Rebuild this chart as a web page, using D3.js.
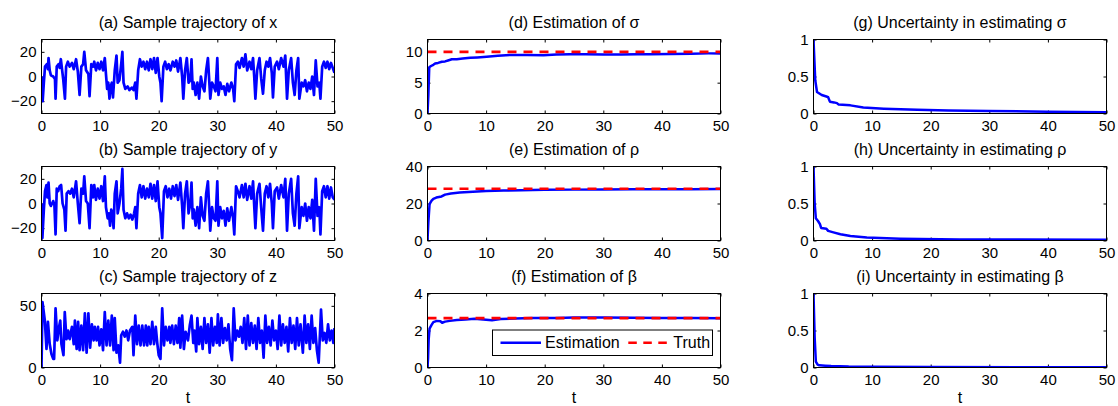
<!DOCTYPE html>
<html>
<head>
<meta charset="utf-8">
<script src="https://cdn.jsdelivr.net/npm/d3@7"></script>
<style>
  body { margin: 0; background: #fff; }
  svg { font-family: "Liberation Sans", Arial, Helvetica, sans-serif; }
</style>
</head>
<body>
<svg id="fig" width="1118" height="406"></svg>
<script>
// ---- data ----
var tTicks = [0, 10, 20, 30, 40, 50];

// sample trajectories [t, value]
var trajX = [[0,0],[0.2,-20],[0.4,-5],[0.6,8],[0.9,10],[1.1,6],[1.2,15],[1.4,5],[1.6,1],[2.0,0],[2.3,-2],[2.4,-18],
  [2.6,8],[2.9,10],[3.1,7],[3.3,14],[3.5,6],[3.7,-2],[4.0,-18],[4.2,8],[4.5,12],[4.8,8],[5.2,11],[5.5,6],[5.9,14],
  [6.2,4],[6.5,-15],[6.8,8],[7.1,10],[7.3,20],[7.6,5],[8.0,2],[8.2,-16],[8.5,10],[8.8,8],[9.0,12],[9.3,5],[9.6,11],
  [9.9,6],[10.2,12],[10.5,5],[10.8,15],[11.0,2],[11.2,-10],[11.4,-5],[11.6,-18],[11.8,-8],[12.0,-5],[12.2,-17],
  [12.5,5],[12.8,17],[13.0,-5],[13.3,-3],[13.6,10],[13.8,20],[14.0,-5],[14.3,-10],[14.7,-8],[15.0,-11],[15.4,-9],
  [15.7,-11],[16.0,-5],[16.2,-18],[16.5,5],[16.8,14],[17.1,8],[17.4,12],[17.7,6],[18.0,12],[18.3,5],[18.6,14],
  [18.9,6],[19.2,15],[19.5,3],[19.8,15],[20.1,0],[20.3,-5],[20.5,-20],[20.8,8],[21.1,12],[21.4,6],[21.7,10],
  [22.0,5],[22.4,12],[22.7,8],[23.0,13],[23.3,4],[23.7,15],[24.0,0],[24.2,-18],[24.5,5],[24.8,15],[25.1,-5],
  [25.4,-3],[25.6,14],[25.8,-10],[26.0,-5],[26.3,-15],[26.6,-5],[26.9,-18],[27.2,0],[27.5,-8],[27.8,-12],[28.1,5],
  [28.4,15],[28.8,-18],[29.1,-5],[29.4,-8],[29.7,-12],[30.0,15],[30.2,-15],[30.5,-5],[30.8,-10],[31.1,-8],
  [31.4,-15],[31.7,-6],[32.0,-12],[32.4,-5],[32.7,-10],[32.9,-20],[33.2,10],[33.5,12],[33.8,7],[34.2,15],[34.5,8],
  [34.8,18],[35.1,5],[35.5,12],[35.8,6],[36.1,15],[36.3,0],[36.5,-18],[36.8,5],[37.2,15],[37.5,-2],[37.8,-14],
  [38.1,5],[38.4,12],[38.7,8],[39.0,15],[39.3,3],[39.5,-17],[39.8,8],[40.2,12],[40.5,6],[40.9,15],[41.3,8],
  [41.6,17],[41.9,-18],[42.2,5],[42.6,15],[42.9,-5],[43.2,-15],[43.5,5],[43.8,15],[44.0,-18],[44.4,-5],[44.7,-8],
  [45.0,-3],[45.3,-12],[45.6,-5],[45.9,-10],[46.2,0],[46.5,-15],[46.8,13],[47.1,-8],[47.4,-5],[47.6,-18],[47.9,8],
  [48.2,12],[48.5,7],[48.8,12],[49.1,6],[49.4,11],[49.7,7],[50.0,3]];

var trajY = [[0,0],[0.15,-28],[0.4,-5],[0.6,10],[0.85,15],[1.0,5],[1.2,17],[1.4,0],[1.6,-2],[2.0,2],[2.2,-1],
  [2.4,-25],[2.6,12],[2.85,10],[3.1,14],[3.35,15],[3.6,0],[3.9,-5],[4.1,-22],[4.3,8],[4.6,10],[4.9,8],[5.2,12],
  [5.5,5],[5.9,18],[6.2,0],[6.5,-16],[6.8,12],[7.1,8],[7.3,22],[7.6,2],[7.9,0],[8.2,-20],[8.5,15],[8.8,5],[9.0,15],
  [9.3,3],[9.6,12],[9.9,4],[10.2,14],[10.5,2],[10.8,22],[11.0,-3],[11.3,-12],[11.5,-8],[11.7,-18],[11.9,-5],
  [12.1,-8],[12.3,-20],[12.5,8],[12.8,18],[13.0,-8],[13.3,0],[13.6,12],[13.8,28],[14.0,-5],[14.3,-12],[14.6,-8],
  [14.9,-12],[15.2,-9],[15.5,-13],[15.8,-8],[16.0,-3],[16.2,-20],[16.5,8],[16.8,15],[17.1,5],[17.4,14],[17.7,4],
  [18.0,12],[18.3,5],[18.6,16],[18.9,4],[19.2,15],[19.5,2],[19.8,18],[20.1,-3],[20.3,-8],[20.6,-28],[20.9,10],
  [21.2,14],[21.5,5],[21.8,12],[22.1,4],[22.4,14],[22.7,6],[23.0,15],[23.3,3],[23.7,17],[24.0,-2],[24.2,-20],
  [24.5,8],[24.8,18],[25.1,-8],[25.4,0],[25.6,17],[25.8,-12],[26.0,-5],[26.3,-18],[26.6,-3],[26.9,-20],[27.2,5],
  [27.5,-10],[27.8,-14],[28.1,8],[28.4,18],[28.8,-22],[29.1,-3],[29.4,-12],[29.7,-14],[30.0,18],[30.2,-18],
  [30.5,-3],[30.8,-12],[31.1,-6],[31.4,-18],[31.7,-4],[32.0,-14],[32.4,-3],[32.7,-12],[32.9,-25],[33.2,14],
  [33.5,10],[33.8,5],[34.2,15],[34.5,5],[34.8,16],[35.1,3],[35.5,14],[35.8,4],[36.1,18],[36.3,-2],[36.5,-20],
  [36.8,8],[37.2,16],[37.5,-4],[37.8,-22],[38.1,8],[38.4,14],[38.7,5],[39.0,16],[39.3,0],[39.5,-20],[39.8,10],
  [40.2,13],[40.5,4],[40.9,15],[41.3,5],[41.6,20],[41.9,-22],[42.2,8],[42.6,20],[42.9,-8],[43.2,-18],[43.5,8],
  [43.8,22],[44.0,-20],[44.4,-3],[44.7,-10],[45.0,0],[45.3,-14],[45.6,-3],[45.9,-12],[46.2,3],[46.5,-22],
  [46.8,20],[47.1,-10],[47.4,-3],[47.6,-25],[47.9,10],[48.2,14],[48.5,5],[48.8,14],[49.1,4],[49.4,13],[49.7,5],
  [50.0,3]];

var trajZ = [[0,0],[0.17,53],[0.57,38],[0.85,15],[1.1,37],[1.4,19],[1.7,11],[2.0,7],[2.15,7],[2.4,48],[2.7,22],
  [3.0,33],[3.2,38],[3.4,19],[3.75,10],[3.97,45],[4.26,23],[4.54,30],[4.8,23],[5.2,33],[5.5,19],[5.7,38],[6.0,15],
  [6.25,37],[6.5,14],[6.8,34],[7.1,14],[7.4,44],[7.7,12],[8.0,44],[8.3,16],[8.6,35],[8.9,22],[9.1,33],[9.4,22],
  [9.65,33],[9.9,18],[10.2,31],[10.5,14],[10.8,45],[11.1,18],[11.4,38],[11.7,18],[12.0,42],[12.3,14],[12.5,40],
  [12.8,12],[13.1,18],[13.4,4],[13.6,26],[13.9,29],[14.2,25],[14.5,30],[14.8,22],[15.1,30],[15.5,33],[15.7,10],
  [16.0,42],[16.3,19],[16.6,34],[16.9,18],[17.2,34],[17.5,18],[17.8,34],[18.05,18],[18.3,33],[18.6,19],[18.9,37],
  [19.2,19],[19.5,33],[19.75,20],[20.0,10],[20.3,7],[20.6,48],[20.9,18],[21.2,33],[21.5,22],[21.8,33],[22.0,20],
  [22.3,34],[22.6,19],[22.9,34],[23.2,20],[23.5,40],[23.7,16],[24.0,42],[24.3,15],[24.6,29],[25.0,22],[25.3,34],
  [25.6,42],[25.9,20],[26.1,30],[26.4,13],[26.6,40],[26.9,19],[27.2,33],[27.5,15],[27.8,40],[28.1,20],[28.4,35],
  [28.7,12],[29.0,40],[29.3,18],[29.6,33],[29.9,20],[30.1,43],[30.4,18],[30.7,40],[31.0,20],[31.3,32],[31.6,22],
  [31.9,35],[32.2,15],[32.5,6],[32.8,48],[33.1,22],[33.4,30],[33.7,25],[34.0,33],[34.3,20],[34.6,40],[34.9,15],
  [35.2,42],[35.5,18],[35.8,36],[36.1,20],[36.4,34],[36.7,15],[37.0,40],[37.3,20],[37.6,30],[37.9,8],[38.2,42],
  [38.5,20],[38.8,33],[39.1,18],[39.4,38],[39.7,22],[40.0,30],[40.3,15],[40.6,42],[40.9,18],[41.2,35],[41.5,20],
  [41.8,33],[42.1,13],[42.4,40],[42.7,20],[43.0,34],[43.3,15],[43.6,40],[43.9,18],[44.2,35],[44.6,12],[44.9,42],
  [45.2,20],[45.5,35],[45.8,15],[46.1,42],[46.4,20],[46.7,32],[47.0,14],[47.3,4],[47.7,47],[48.0,22],[48.3,28],
  [48.6,20],[48.9,35],[49.2,22],[49.5,30],[49.8,20],[50.0,32]];

// parameter estimates [t, value]
var sigmaEst = [[0,0],[0.15,3],[0.3,7.5],[0.6,7.7],[1.0,7.9],[1.3,8.1],[1.8,8.2],[2.45,8.4],[3,8.45],[3.5,8.6],
  [4.15,8.8],[5,8.8],[6,8.9],[7.3,9.05],[8.5,9.1],[10.1,9.2],[12,9.35],[14.1,9.5],[17,9.5],[19.8,9.45],[22,9.55],
  [24.4,9.6],[27,9.6],[30,9.55],[33,9.55],[35.8,9.6],[38,9.6],[41.5,9.65],[45,9.7],[48,9.75],[50,9.75]];
var rhoEst = [[0,0],[0.15,10],[0.35,19.6],[0.7,21.5],[1.0,22.5],[1.5,23.2],[2.4,23.8],[3.0,24.8],[4,25.4],
  [5.5,25.9],[7,26.2],[10,26.7],[13,27],[16,27.2],[20,27.4],[25,27.5],[30,27.6],[35,27.7],[40,27.7],[45,27.7],[50,27.8]];
var betaEst = [[0,0],[0.1,0.5],[0.2,1.5],[0.35,2.1],[0.7,2.3],[1.0,2.45],[1.6,2.52],[2.2,2.5],[2.5,2.42],[3.0,2.48],
  [3.8,2.52],[5,2.57],[6.5,2.6],[8,2.63],[10,2.58],[11,2.55],[12.5,2.62],[15,2.65],[18,2.68],[22,2.68],[25,2.7],
  [30,2.7],[35,2.69],[40,2.68],[45,2.67],[50,2.66]];
var sigmaTrue = 10, rhoTrue = 28, betaTrue = 2.667;

// uncertainties [t, value]
var sigmaUnc = [[0,1],[0.3,0.45],[0.6,0.29],[1.0,0.27],[1.4,0.25],[2.2,0.23],[2.5,0.22],[2.8,0.16],[3.5,0.15],
  [4,0.14],[4.3,0.12],[6.3,0.11],[8.5,0.08],[12,0.065],[17.7,0.05],[23,0.04],[30,0.033],[40,0.025],[50,0.018]];
var rhoUnc = [[0,1],[0.2,0.5],[0.4,0.3],[0.8,0.26],[1.1,0.22],[1.3,0.17],[2.2,0.16],[2.5,0.13],[3.4,0.11],
  [4.6,0.085],[6.3,0.06],[9.1,0.04],[14.8,0.025],[25,0.015],[35,0.012],[50,0.01]];
var betaUnc = [[0,1],[0.2,0.4],[0.4,0.08],[0.7,0.04],[1.0,0.03],[2.0,0.025],[3,0.02],[6,0.012],[10,0.009],
  [20,0.006],[35,0.004],[50,0.003]];

var panels = [
  {title: "(a) Sample trajectory of x", col: 0, row: 0, ydom: [-30, 30], yticks: [-20, 0, 20], series: trajX},
  {title: "(b) Sample trajectory of y", col: 0, row: 1, ydom: [-30, 30], yticks: [-20, 0, 20], series: trajY},
  {title: "(c) Sample trajectory of z", col: 0, row: 2, ydom: [0, 60], yticks: [0, 50], series: trajZ},
  {title: "(d) Estimation of \u03c3", col: 1, row: 0, ydom: [0, 12], yticks: [0, 5, 10], series: sigmaEst, truth: sigmaTrue},
  {title: "(e) Estimation of \u03c1", col: 1, row: 1, ydom: [0, 40], yticks: [0, 20, 40], series: rhoEst, truth: rhoTrue},
  {title: "(f) Estimation of \u03b2", col: 1, row: 2, ydom: [0, 4], yticks: [0, 2, 4], series: betaEst, truth: betaTrue, legend: true},
  {title: "(g) Uncertainty in estimating \u03c3", col: 2, row: 0, ydom: [0, 1], yticks: [0, 0.5, 1], series: sigmaUnc},
  {title: "(h) Uncertainty in estimating \u03c1", col: 2, row: 1, ydom: [0, 1], yticks: [0, 0.5, 1], series: rhoUnc},
  {title: "(i) Uncertainty in estimating \u03b2", col: 2, row: 2, ydom: [0, 1], yticks: [0, 0.5, 1], series: betaUnc}
];

// ---- layout ----
var colLeft = [41.5, 427.5, 813.5];
var rowTop = [39.5, 166.5, 293.5];
var W = 293, H = 74;
var blue = "#0000ff", red = "#ff0000";

var svg = d3.select("#fig");
var defs = svg.append("defs");

panels.forEach(function(p, i) {
  var x = d3.scaleLinear().domain([0, 50]).range([0, W]);
  var y = d3.scaleLinear().domain(p.ydom).range([H, 0]);
  var g = svg.append("g").attr("transform", "translate(" + colLeft[p.col] + "," + rowTop[p.row] + ")");

  defs.append("clipPath").attr("id", "clip" + i)
    .append("rect").attr("width", W).attr("height", H);

  var fmt = function(d) { return d3.format("")(d); };

  g.append("g").attr("transform", "translate(0," + H + ")")
    .call(d3.axisBottom(x).tickValues(tTicks).tickSize(-3).tickPadding(7).tickFormat(fmt));
  g.append("g")
    .call(d3.axisTop(x).tickValues(tTicks).tickSize(-3).tickFormat(""));
  g.append("g")
    .call(d3.axisLeft(y).tickValues(p.yticks).tickSize(-3).tickPadding(5).tickFormat(fmt));
  g.append("g").attr("transform", "translate(" + W + ",0)")
    .call(d3.axisRight(y).tickValues(p.yticks).tickSize(-3).tickFormat(""));

  g.selectAll(".domain").remove();
  g.selectAll(".tick line").attr("stroke", "#000");
  g.selectAll(".tick text").attr("fill", "#000").style("font-size", "15px");

  var line = d3.line().x(function(d) { return x(d[0]); }).y(function(d) { return y(d[1]); });
  var plot = g.append("g").attr("clip-path", "url(#clip" + i + ")");

  plot.append("path").datum(p.series)
    .attr("d", line).attr("fill", "none").attr("stroke", blue)
    .attr("stroke-width", p.col === 0 ? 2.7 : 2.5).attr("stroke-linejoin", "round");

  if (p.truth !== undefined) {
    plot.append("path").datum([[0, p.truth], [50, p.truth]])
      .attr("d", line).attr("fill", "none").attr("stroke", red)
      .attr("stroke-width", 2.6).attr("stroke-dasharray", "9,7");
  }

  g.append("rect").attr("width", W).attr("height", H)
    .attr("fill", "none").attr("stroke", "#000").attr("stroke-width", 1);

  g.append("text").attr("x", W / 2).attr("y", -12)
    .attr("text-anchor", "middle").style("font-size", "16px").text(p.title);

  if (p.row === 2) {
    g.append("text").attr("x", W / 2).attr("y", H + 35)
      .attr("text-anchor", "middle").style("font-size", "16px").text("t");
  }

  if (p.legend) {
    var lg = g.append("g").attr("transform", "translate(65,36.5)");
    lg.append("rect").attr("width", 220).attr("height", 25.5)
      .attr("fill", "#fff").attr("stroke", "#000").attr("stroke-width", 1);
    lg.append("line").attr("x1", 8).attr("x2", 48.5).attr("y1", 12.7).attr("y2", 12.7)
      .attr("stroke", blue).attr("stroke-width", 2.6);
    lg.append("text").attr("x", 52.5).attr("y", 18.3).style("font-size", "16px").text("Estimation");
    lg.append("line").attr("x1", 135.8).attr("x2", 175.8).attr("y1", 12.7).attr("y2", 12.7)
      .attr("stroke", red).attr("stroke-width", 2.6).attr("stroke-dasharray", "8.5,6.5");
    lg.append("text").attr("x", 180.8).attr("y", 18.3).style("font-size", "16px").text("Truth");
  }
});
</script>
</body>
</html>
